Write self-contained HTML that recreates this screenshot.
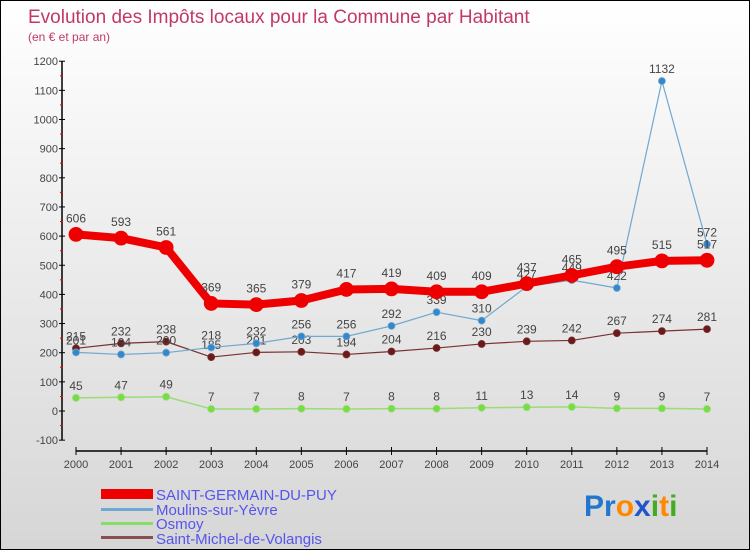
<!DOCTYPE html>
<html><head><meta charset="utf-8"><style>
body{margin:0}
#c{width:750px;height:550px;position:relative;box-sizing:border-box;border:1px solid #000;background:linear-gradient(#ffffff,#d6d6d6);font-family:"Liberation Sans",sans-serif;overflow:hidden}
</style></head><body>
<div id="c">
<svg id="s" width="750" height="550" style="position:absolute;left:0;top:0">
<text x="27" y="22" font-size="19" fill="#c23a64">Evolution des Impôts locaux pour la Commune par Habitant</text>
<text x="27" y="40" font-size="12" fill="#c23a64">(en € et par an)</text>
<g id="axes"></g><g id="series"></g>
<g font-size="15" fill="#5555ee">
<rect x="100" y="488" width="52" height="10" fill="#ee0000"/>
<text x="155" y="499">SAINT-GERMAIN-DU-PUY</text>
<rect x="100" y="507" width="52" height="3" fill="#6fa8d0"/>
<text x="155" y="514">Moulins-sur-Yèvre</text>
<rect x="100" y="521" width="52" height="3" fill="#88dd66"/>
<text x="155" y="528">Osmoy</text>
<rect x="100" y="535" width="52" height="3" fill="#8a5050"/>
<text x="155" y="543">Saint-Michel-de-Volangis</text>
</g>
<g font-size="30" font-weight="bold">
<text x="583" y="515"><tspan fill="#2277cc">P</tspan><tspan fill="#2277cc">r</tspan><tspan fill="#ff8800">o</tspan><tspan fill="#2255cc">x</tspan><tspan fill="#44aa22">i</tspan><tspan fill="#ff8800">t</tspan><tspan fill="#44aa22">i</tspan></text>
</g>
</svg>
</div>
<script>
const years=[2000,2001,2002,2003,2004,2005,2006,2007,2008,2009,2010,2011,2012,2013,2014];
const sgdp=[606,593,561,369,365,379,417,419,409,409,437,465,495,515,517];
const moulins=[201,194,200,218,232,256,256,292,339,310,427,449,422,1132,572];
const osmoy=[45,47,49,7,7,8,7,8,8,11,13,14,9,9,7];
const smdv=[215,232,238,185,201,203,194,204,216,230,239,242,267,274,281];
const yTicks=[-100,0,100,200,300,400,500,600,700,800,900,1000,1100,1200];
const NS="http://www.w3.org/2000/svg";
const X=i=>75+i*(706-75)/14;
const Y=v=>410-v*0.2915;
const ax=document.getElementById('axes'),sg=document.getElementById('series');
function mk(t,a,p){const e=document.createElementNS(NS,t);for(const k in a)e.setAttribute(k,a[k]);p.appendChild(e);return e;}
let yl=mk('line',{x1:61,y1:Y(1200),x2:61,y2:Y(-100),stroke:'#000','stroke-width':1.5},ax);


yTicks.forEach(v=>{
 mk('line',{x1:58,y1:Y(v),x2:64,y2:Y(v),stroke:'#000'},ax);
 if(v<1200)mk('line',{x1:59,y1:Y(v+50),x2:62,y2:Y(v+50),stroke:'#e00'},ax);
 const t=mk('text',{x:57,y:Y(v)+4,'font-size':11,fill:'#444','text-anchor':'end'},ax);
 t.textContent=v;
 
 
});
let xl=mk('line',{x1:75,y1:450,x2:706,y2:450,stroke:'#000','stroke-width':1.5},ax);


years.forEach((y,i)=>{
 mk('line',{x1:X(i),y1:446,x2:X(i),y2:454,stroke:'#000'},ax);
 const t=mk('text',{x:X(i),y:467,'font-size':11,fill:'#444','text-anchor':'middle'},ax);
 t.textContent=y;
 
 
});
function series(d,name,col,w,r,dot,lab){
 const g=mk('g',{},sg);
 
 
 const p=mk('polyline',{points:d.map((v,i)=>X(i)+','+Y(v)).join(' '),fill:'none',stroke:col,'stroke-width':w,'stroke-linejoin':'round'},g);
 
 
 d.forEach((v,i)=>{
  const c=mk('circle',{cx:X(i),cy:Y(v),r:r,fill:dot,stroke:col,'stroke-width':0.8},g);
  
  
  const t=mk('text',{x:X(i),y:Y(v)-lab,'font-size':12,fill:'#444','text-anchor':'middle'},g);
  t.textContent=v;
  
  
 });
}
series(smdv,'saint-michel','#7a3030',1.2,3.5,'#6a1a1a',8);
series(osmoy,'osmoy','#99dd77',1.5,3.5,'#77dd44',8);
series(moulins,'moulins','#6fa8d0',1.2,3.5,'#3388cc',8);
series(sgdp,'saint-germain','#ee0000',8,7,'#ee0000',12);
</script>
</body></html>
